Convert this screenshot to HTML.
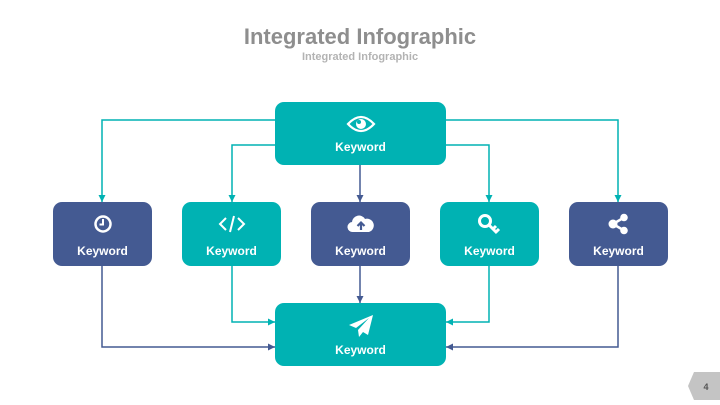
<!DOCTYPE html>
<html><head><style>
body{margin:0;width:720px;height:405px;background:#fff;overflow:hidden;font-family:"Liberation Sans",sans-serif;position:relative}
.t{position:absolute;left:0;width:720px;text-align:center;font-weight:bold}
.b{position:absolute;border-radius:9px;color:#fff;font-weight:bold;font-size:12px;text-align:center}
.teal{background:#00B2B3}.navy{background:#445A92}
.b svg{position:absolute;left:50%;transform:translateX(-50%)}
.b span{position:absolute;left:0;right:0}
</style></head><body>
<div class="t" style="top:24px;font-size:22px;color:#8e8e8e">Integrated Infographic</div>
<div class="t" style="top:51px;font-size:11px;color:#b3b3b3">Integrated Infographic</div>
<svg width="720" height="405" style="position:absolute;left:0;top:0">
<defs>
<marker id="at" markerWidth="8" markerHeight="8" refX="7" refY="4" orient="auto" markerUnits="userSpaceOnUse"><path d="M0,0.5 L7,4 L0,7.5z" fill="#00B2B3"/></marker>
<marker id="an" markerWidth="8" markerHeight="8" refX="7" refY="4" orient="auto" markerUnits="userSpaceOnUse"><path d="M0,0.5 L7,4 L0,7.5z" fill="#445A92"/></marker>
</defs>
<g fill="none" stroke-width="1.5">
<path d="M275,120 H102 V202" stroke="#00B2B3" marker-end="url(#at)"/>
<path d="M275,145 H232 V202" stroke="#00B2B3" marker-end="url(#at)"/>
<path d="M446,120 H618 V202" stroke="#00B2B3" marker-end="url(#at)"/>
<path d="M446,145 H489 V202" stroke="#00B2B3" marker-end="url(#at)"/>
<path d="M360,165 V202" stroke="#445A92" marker-end="url(#an)"/>
<path d="M360,266 V303" stroke="#445A92" marker-end="url(#an)"/>
<path d="M232,266 V322 H275" stroke="#00B2B3" marker-end="url(#at)"/>
<path d="M489,266 V322 H446" stroke="#00B2B3" marker-end="url(#at)"/>
<path d="M102,266 V347 H275" stroke="#445A92" marker-end="url(#an)"/>
<path d="M618,266 V347 H446" stroke="#445A92" marker-end="url(#an)"/>
</g>
<polygon points="694,372 720,372 720,400 694,400 688,386" fill="#c4c4c4"/>
<text x="706" y="390" font-size="9" font-weight="bold" fill="#555" text-anchor="middle" font-family="Liberation Sans">4</text>
</svg>
<div class="b teal" style="left:275px;top:102px;width:171px;height:63px">
<svg width="30" height="20" viewBox="0 0 30 20" style="top:12px"><path d="M2,10 Q15,-4 28,10 Q15,24 2,10z" fill="none" stroke="#fff" stroke-width="2.2"/><circle cx="15" cy="10" r="5" fill="#fff"/><circle cx="13" cy="8" r="2" fill="#00B2B3"/></svg>
<span style="top:38px">Keyword</span></div>
<div class="b navy" style="left:53px;top:202px;width:99px;height:64px">
<svg width="20" height="20" viewBox="0 0 20 20" style="top:12px"><circle cx="10" cy="10" r="7.5" fill="none" stroke="#fff" stroke-width="2.5"/><path d="M10,5 V10.5 H6.5" fill="none" stroke="#fff" stroke-width="2"/></svg>
<span style="top:42px">Keyword</span></div>
<div class="b teal" style="left:182px;top:202px;width:99px;height:64px">
<svg width="28" height="20" viewBox="0 0 28 20" style="top:12px"><path d="M8,4 L2,10 L8,16 M20,4 L26,10 L20,16 M16,2 L12,18" fill="none" stroke="#fff" stroke-width="2"/></svg>
<span style="top:42px">Keyword</span></div>
<div class="b navy" style="left:311px;top:202px;width:99px;height:64px">
<svg width="28" height="20" viewBox="0 0 28 20" style="top:12px"><path d="M6,18 A5,5 0 0 1 5,8 A7,7 0 0 1 18,5 A6,6 0 0 1 22,18z" fill="#fff"/><path d="M14,16 V9 M10.5,12 L14,8.5 L17.5,12" fill="none" stroke="#445A92" stroke-width="2.2"/></svg>
<span style="top:42px">Keyword</span></div>
<div class="b teal" style="left:440px;top:202px;width:99px;height:64px">
<svg width="28" height="24" viewBox="0 0 28 24" style="top:10px"><circle cx="9" cy="9" r="5.5" fill="none" stroke="#fff" stroke-width="3"/><path d="M13,13 L21,21 M17,17 L20,14 M20,20 L23,17" fill="none" stroke="#fff" stroke-width="3"/></svg>
<span style="top:42px">Keyword</span></div>
<div class="b navy" style="left:569px;top:202px;width:99px;height:64px">
<svg width="24" height="22" viewBox="0 0 24 22" style="top:11px"><circle cx="17" cy="4.5" r="3.8" fill="#fff"/><circle cx="17" cy="17.5" r="3.8" fill="#fff"/><circle cx="6" cy="11" r="4.5" fill="#fff"/><path d="M6,11 L17,4.5 M6,11 L17,17.5" stroke="#fff" stroke-width="2.5"/></svg>
<span style="top:42px">Keyword</span></div>
<div class="b teal" style="left:275px;top:303px;width:171px;height:63px">
<svg width="28" height="26" viewBox="0 0 28 26" style="top:10px"><path d="M26,2 L2,12 L9,15 L22,5 L11,17 L12,24 L16,19 L21,22z" fill="#fff"/></svg>
<span style="top:40px">Keyword</span></div>
</body></html>
